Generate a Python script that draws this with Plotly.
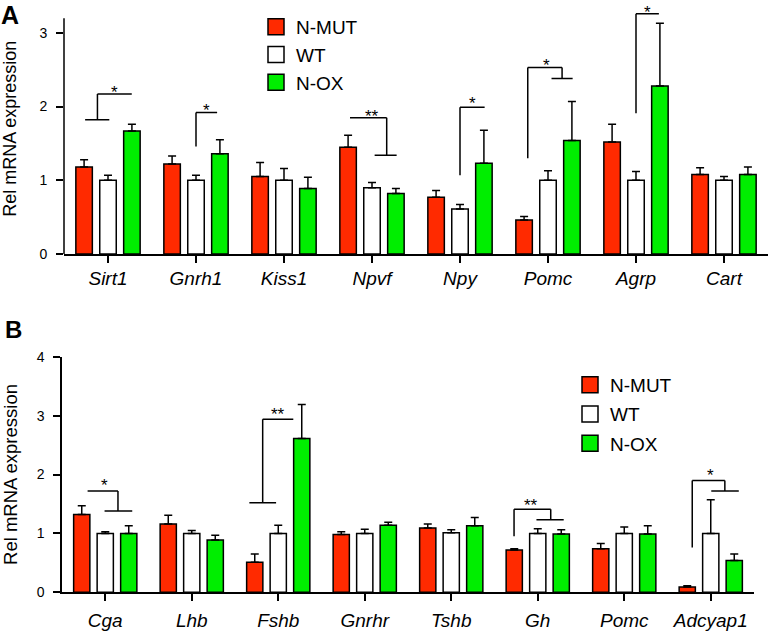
import plotly.graph_objects as go

# ---------------- data ----------------
groups = ["N-MUT", "WT", "N-OX"]
colors = ["#FF2A00", "#FFFFFF", "#00EE00"]

genes_a = ["Sirt1", "Gnrh1", "Kiss1", "Npvf", "Npy", "Pomc", "Agrp", "Cart"]
mut_a = [1.18, 1.22, 1.05, 1.45, 0.77, 0.46, 1.52, 1.08]
mut_a_err = [0.10, 0.11, 0.19, 0.16, 0.09, 0.05, 0.24, 0.09]
wt_a = [1.00, 1.00, 1.00, 0.90, 0.61, 1.00, 1.00, 1.00]
wt_a_err = [0.07, 0.07, 0.16, 0.07, 0.06, 0.13, 0.12, 0.05]
ox_a = [1.67, 1.36, 0.89, 0.82, 1.23, 1.54, 2.28, 1.08]
ox_a_err = [0.09, 0.19, 0.15, 0.07, 0.45, 0.53, 0.85, 0.10]

genes_b = ["Cga", "Lhb", "Fshb", "Gnrhr", "Tshb", "Gh", "Pomc", "Adcyap1"]
mut_b = [1.32, 1.16, 0.51, 0.98, 1.09, 0.72, 0.74, 0.09]
mut_b_err = [0.15, 0.15, 0.14, 0.05, 0.07, 0.02, 0.09, 0.02]
wt_b = [1.00, 1.00, 1.00, 1.00, 1.01, 1.00, 1.00, 1.00]
wt_b_err = [0.03, 0.05, 0.14, 0.07, 0.05, 0.08, 0.11, 0.57]
ox_b = [1.00, 0.89, 2.61, 1.14, 1.13, 0.99, 0.99, 0.54]
ox_b_err = [0.13, 0.08, 0.58, 0.05, 0.14, 0.07, 0.14, 0.11]

yticks_a = [0, 1, 2, 3]
yticks_b = [0, 1, 2, 3, 4]

# significance brackets: polyline segments (x0, y0, x1, y1) in category/data units
brackets_a = [
    [(-0.26, 1.82, 0.015, 1.82), (-0.12, 1.82, -0.12, 2.17), (-0.12, 2.17, 0.27, 2.17)],
    [(1.0, 1.46, 1.0, 1.92), (1.0, 1.92, 1.24, 1.92)],
    [(2.75, 1.85, 3.167, 1.85), (3.167, 1.85, 3.167, 1.34), (3.03, 1.34, 3.28, 1.34)],
    [(4.0, 1.07, 4.0, 1.99), (4.0, 1.99, 4.28, 1.99)],
    [(4.77, 1.30, 4.77, 2.53), (4.77, 2.53, 5.16, 2.53), (5.16, 2.53, 5.16, 2.38), (5.04, 2.38, 5.28, 2.38)],
    [(6.0, 1.91, 6.0, 3.26), (6.0, 3.26, 6.26, 3.26)],
]
stars_a = [(0.07, 2.25, "*"), (1.12, 2.0, "*"), (3.0, 1.92, "**"),
           (4.14, 2.09, "*"), (4.985, 2.61, "*"), (6.13, 3.33, "*")]

brackets_b = [
    [(-0.204, 1.72, 0.147, 1.72), (0.147, 1.72, 0.147, 1.38), (-0.008, 1.38, 0.312, 1.38)],
    [(1.666, 1.52, 1.975, 1.52), (1.82, 1.52, 1.82, 2.94), (1.82, 2.94, 2.174, 2.94)],
    [(4.726, 0.95, 4.726, 1.41), (4.726, 1.41, 5.15, 1.41), (5.15, 1.41, 5.15, 1.23), (4.985, 1.23, 5.30, 1.23)],
    [(6.786, 0.76, 6.786, 1.90), (6.786, 1.90, 7.163, 1.90), (7.163, 1.90, 7.163, 1.72), (7.006, 1.72, 7.324, 1.72)],
]
stars_b = [(-0.008, 1.88, "*"), (2.0, 3.08, "**"), (4.92, 1.54, "**"), (7.0, 2.05, "*")]

# ---------------- figure ----------------
FONT = "Liberation Sans, Arial, sans-serif"
W, H = 768, 633
fig = go.Figure()

panels = [
    ("x", "y", "legend", "a", genes_a, [mut_a, wt_a, ox_a], [mut_a_err, wt_a_err, ox_a_err]),
    ("x2", "y2", "legend2", "b", genes_b, [mut_b, wt_b, ox_b], [mut_b_err, wt_b_err, ox_b_err]),
]
for xa, ya, leg, tag, genes, vals, errs in panels:
    pos = list(range(len(genes)))
    for g, c, v, e in zip(groups, colors, vals, errs):
        fig.add_trace(go.Bar(
            x=pos, y=v, name=g, xaxis=xa, yaxis=ya, showlegend=False,
            marker=dict(color=c, line=dict(color="black", width=1.5)),
            error_y=dict(type="data", symmetric=False, array=e, arrayminus=[0] * len(e),
                         color="black", thickness=1.5, width=4),
        ))
    for g, c in zip(groups, colors):
        fig.add_trace(go.Scatter(
            x=[None], y=[None], mode="markers", name=g, xaxis=xa, yaxis=ya, legend=leg,
            legendgroup=tag + g,
            marker=dict(symbol="square", size=16, color=c, line=dict(color="black", width=1.5)),
        ))

shapes = []
annos = []
for xa, ya, brs, sts in [("x", "y", brackets_a, stars_a), ("x2", "y2", brackets_b, stars_b)]:
    for br in brs:
        for (x0, y0, x1, y1) in br:
            shapes.append(dict(type="line", xref=xa, yref=ya, x0=x0, y0=y0, x1=x1, y1=y1,
                               line=dict(color="black", width=1.5)))
    for (sx, sy, t) in sts:
        annos.append(dict(x=sx, y=sy, xref=xa, yref=ya, text=t, showarrow=False,
                          yanchor="middle", yshift=-4, font=dict(size=17, color="black", family=FONT)))

# panel A y spine (stops at 3.2)
shapes.append(dict(type="line", xref="x domain", yref="y", x0=0, x1=0, y0=0, y1=3.2,
                   line=dict(color="black", width=1.5)))

annos.append(dict(x=0, y=1, xref="paper", yref="paper", text="<b>A</b>", showarrow=False,
                  xanchor="left", yanchor="top", borderpad=0,
                  font=dict(size=25, color="black", family=FONT)))
annos.append(dict(x=3 / W, y=1 - 314 / H, xref="paper", yref="paper", text="<b>B</b>", showarrow=False,
                  xanchor="left", yanchor="top", font=dict(size=24, color="black", family=FONT)))

xcommon = dict(showline=True, linecolor="black", linewidth=1.5, ticks="outside", ticklen=7,
               tickwidth=1.5, tickcolor="black", showgrid=False, zeroline=False,
               tickfont=dict(size=19, family=FONT, color="black"))
ycommon = dict(ticks="outside", ticklen=7, tickwidth=1.5, tickcolor="black", showgrid=False,
               zeroline=False, tickfont=dict(size=14, family=FONT, color="black"), ticklabelstandoff=6)

fig.update_layout(
    width=W, height=H, autosize=False,
    margin=dict(l=0, r=0, t=0, b=0, autoexpand=False),
    paper_bgcolor="white", plot_bgcolor="white",
    font=dict(family=FONT, color="black"),
    barmode="group", bargap=0.185, bargroupgap=0.31,
    xaxis=dict(domain=[64 / W, 1.0], range=[-0.5, 7.5], anchor="y", ticklabelstandoff=-1,
               tickvals=list(range(len(genes_a))), ticktext=[f"<i>{g}</i>" for g in genes_a], **xcommon),
    yaxis=dict(domain=[1 - 254 / H, 1 - 3.4 / H], range=[0, 3.4], anchor="x", showline=False,
               tickvals=yticks_a,
               title=dict(text="Rel mRNA expression", font=dict(size=18, family=FONT), standoff=26),
               **ycommon),
    xaxis2=dict(domain=[62 / W, 754 / W], range=[-0.5, 7.5], anchor="y2", ticklabelstandoff=3,
                tickvals=list(range(len(genes_b))), ticktext=[f"<i>{g}</i>" for g in genes_b], **xcommon),
    yaxis2=dict(domain=[1 - 592.3 / H, 1 - 356.7 / H], range=[0, 4], anchor="x2", showline=True,
                linecolor="black", linewidth=1.5, tickvals=yticks_b,
                title=dict(text="Rel mRNA expression", font=dict(size=18.5, family=FONT), standoff=24),
                **ycommon),
    legend=dict(x=256 / W, y=1 - 8 / H, xanchor="left", yanchor="top", bgcolor="rgba(0,0,0,0)",
                font=dict(size=19, family=FONT, color="black"), tracegroupgap=0),
    legend2=dict(x=570 / W, y=1 - 366 / H, xanchor="left", yanchor="top", bgcolor="rgba(0,0,0,0)",
                 font=dict(size=19, family=FONT, color="black"), tracegroupgap=1.5),
    shapes=shapes, annotations=annos,
)

# remove the page's default body margin so the figure sits at the window's top-left corner
fig.write_html("out.html", config={"displayModeBar": False},
               post_script="document.body.style.margin='0';document.body.style.overflow='hidden';")
